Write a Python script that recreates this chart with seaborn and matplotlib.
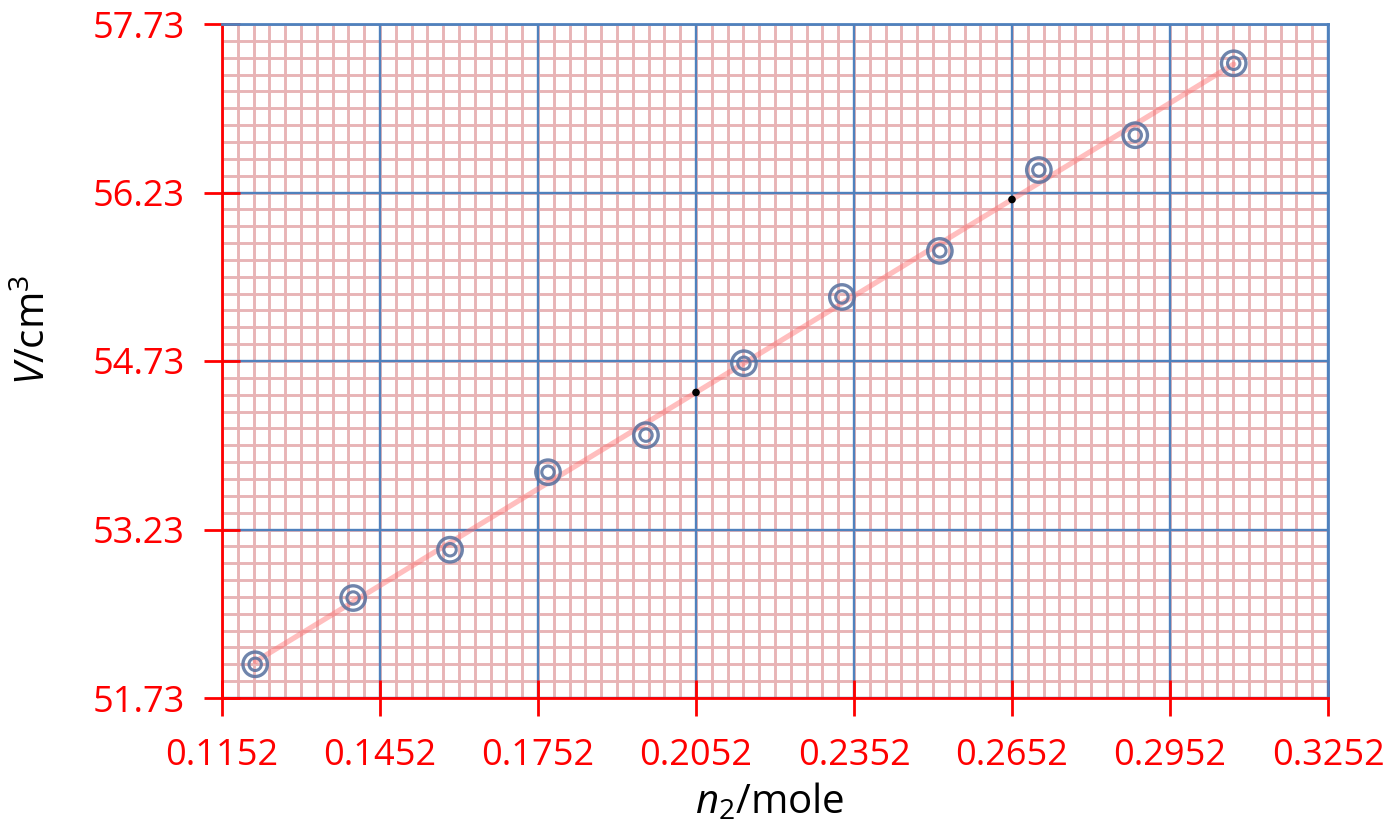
import numpy as np
import pandas as pd
import matplotlib
matplotlib.use("Agg")
import matplotlib.pyplot as plt
import seaborn as sns

# Measured volumes against moles of solute
n2 = [0.1215, 0.1401, 0.1585, 0.1771, 0.1957, 0.2143, 0.2329, 0.2515, 0.2703, 0.2886, 0.3073]
volume = [52.03, 52.62, 53.05, 53.74, 54.07, 54.71, 55.30, 55.71, 56.43, 56.74, 57.38]

fit_slope = 28.63
fit_x0 = 0.2052
fit_y0 = 54.45
fit_ends = [0.1215, 0.3073]
tangent_x = [0.2052, 0.2652]

x_ticks = ["0.1152", "0.1452", "0.1752", "0.2052", "0.2352", "0.2652", "0.2952", "0.3252"]
y_ticks = ["51.73", "53.23", "54.73", "56.23", "57.73"]

sns.set_theme(style="white")
plt.rcParams["font.family"] = ["Open Sans", "DejaVu Sans"]
plt.rcParams["mathtext.fontset"] = "custom"
plt.rcParams["mathtext.rm"] = "Open Sans"
plt.rcParams["mathtext.it"] = "Open Sans:italic"

RED = "#ff0000"
BLUE = "#4f81bd"
PINK = "#e8b4b6"

fig = plt.figure(figsize=(13.95, 8.32), dpi=100)
ax = fig.add_axes([222 / 1395, 134 / 832, 1106 / 1395, 674 / 832])

xt = [float(v) for v in x_ticks]
yt = [float(v) for v in y_ticks]
ax.set_xlim(xt[0], xt[-1])
ax.set_ylim(yt[0], yt[-1])

# graph-paper grid: fine pink lines, coarse blue lines
x_minor = np.linspace(xt[0], xt[-1], (len(xt) - 1) * 10 + 1)
y_minor = np.linspace(yt[0], yt[-1], (len(yt) - 1) * 10 + 1)
ax.vlines(x_minor, yt[0], yt[-1], colors=PINK, linewidth=2.1, zorder=0.3)
ax.hlines(y_minor, xt[0], xt[-1], colors=PINK, linewidth=2.1, zorder=0.3)
ax.vlines(xt, yt[0], yt[-1], colors=BLUE, linewidth=1.7, zorder=0.4)
ax.hlines(yt, xt[0], xt[-1], colors=BLUE, linewidth=1.7, zorder=0.4)

fit_df = pd.DataFrame({"x": fit_ends,
                       "y": [fit_y0 + fit_slope * (v - fit_x0) for v in fit_ends]})
sns.lineplot(data=fit_df, x="x", y="y", ax=ax, color="#ff7070", alpha=0.45,
             linewidth=3.8, zorder=3)

pts = pd.DataFrame({"x": n2, "y": volume})
sns.scatterplot(data=pts, x="x", y="y", ax=ax, s=310, facecolor="none",
                edgecolor="#56709e", linewidth=2.4, alpha=0.85, zorder=4)
sns.scatterplot(data=pts, x="x", y="y", ax=ax, s=80, facecolor="none",
                edgecolor="#56709e", linewidth=2.2, alpha=0.85, zorder=4)

tan_df = pd.DataFrame({"x": tangent_x,
                       "y": [fit_y0 + fit_slope * (v - fit_x0) for v in tangent_x]})
sns.scatterplot(data=tan_df, x="x", y="y", ax=ax, s=30, color="black",
                edgecolor="none", zorder=5)

ax.set_xticks(xt)
ax.set_xticklabels(x_ticks)
ax.set_yticks(yt)
ax.set_yticklabels(y_ticks)
ax.tick_params(which="major", direction="inout", length=26, width=2.0,
               color=RED, labelcolor=RED, labelsize=26, pad=14,
               bottom=True, left=True, top=False, right=False)
ax.tick_params(axis="x", pad=16)

for side in ("left", "bottom"):
    ax.spines[side].set_color(RED)
    ax.spines[side].set_linewidth(2.0)
for side in ("top", "right"):
    ax.spines[side].set_color(BLUE)
    ax.spines[side].set_linewidth(2.0)

ax.set_xlabel("")
ax.set_ylabel("")
fig.text(770 / 1395, 1 - 803 / 832, r"$n_{\mathit{2}}$/mole", fontsize=29,
         ha="center", va="center", color="black")
fig.text(35 / 1395, 1 - 330 / 832, r"$V$/cm$^{3}$", fontsize=29,
         ha="center", va="center", rotation=90, color="black")

fig.savefig("out.png", dpi=100)
